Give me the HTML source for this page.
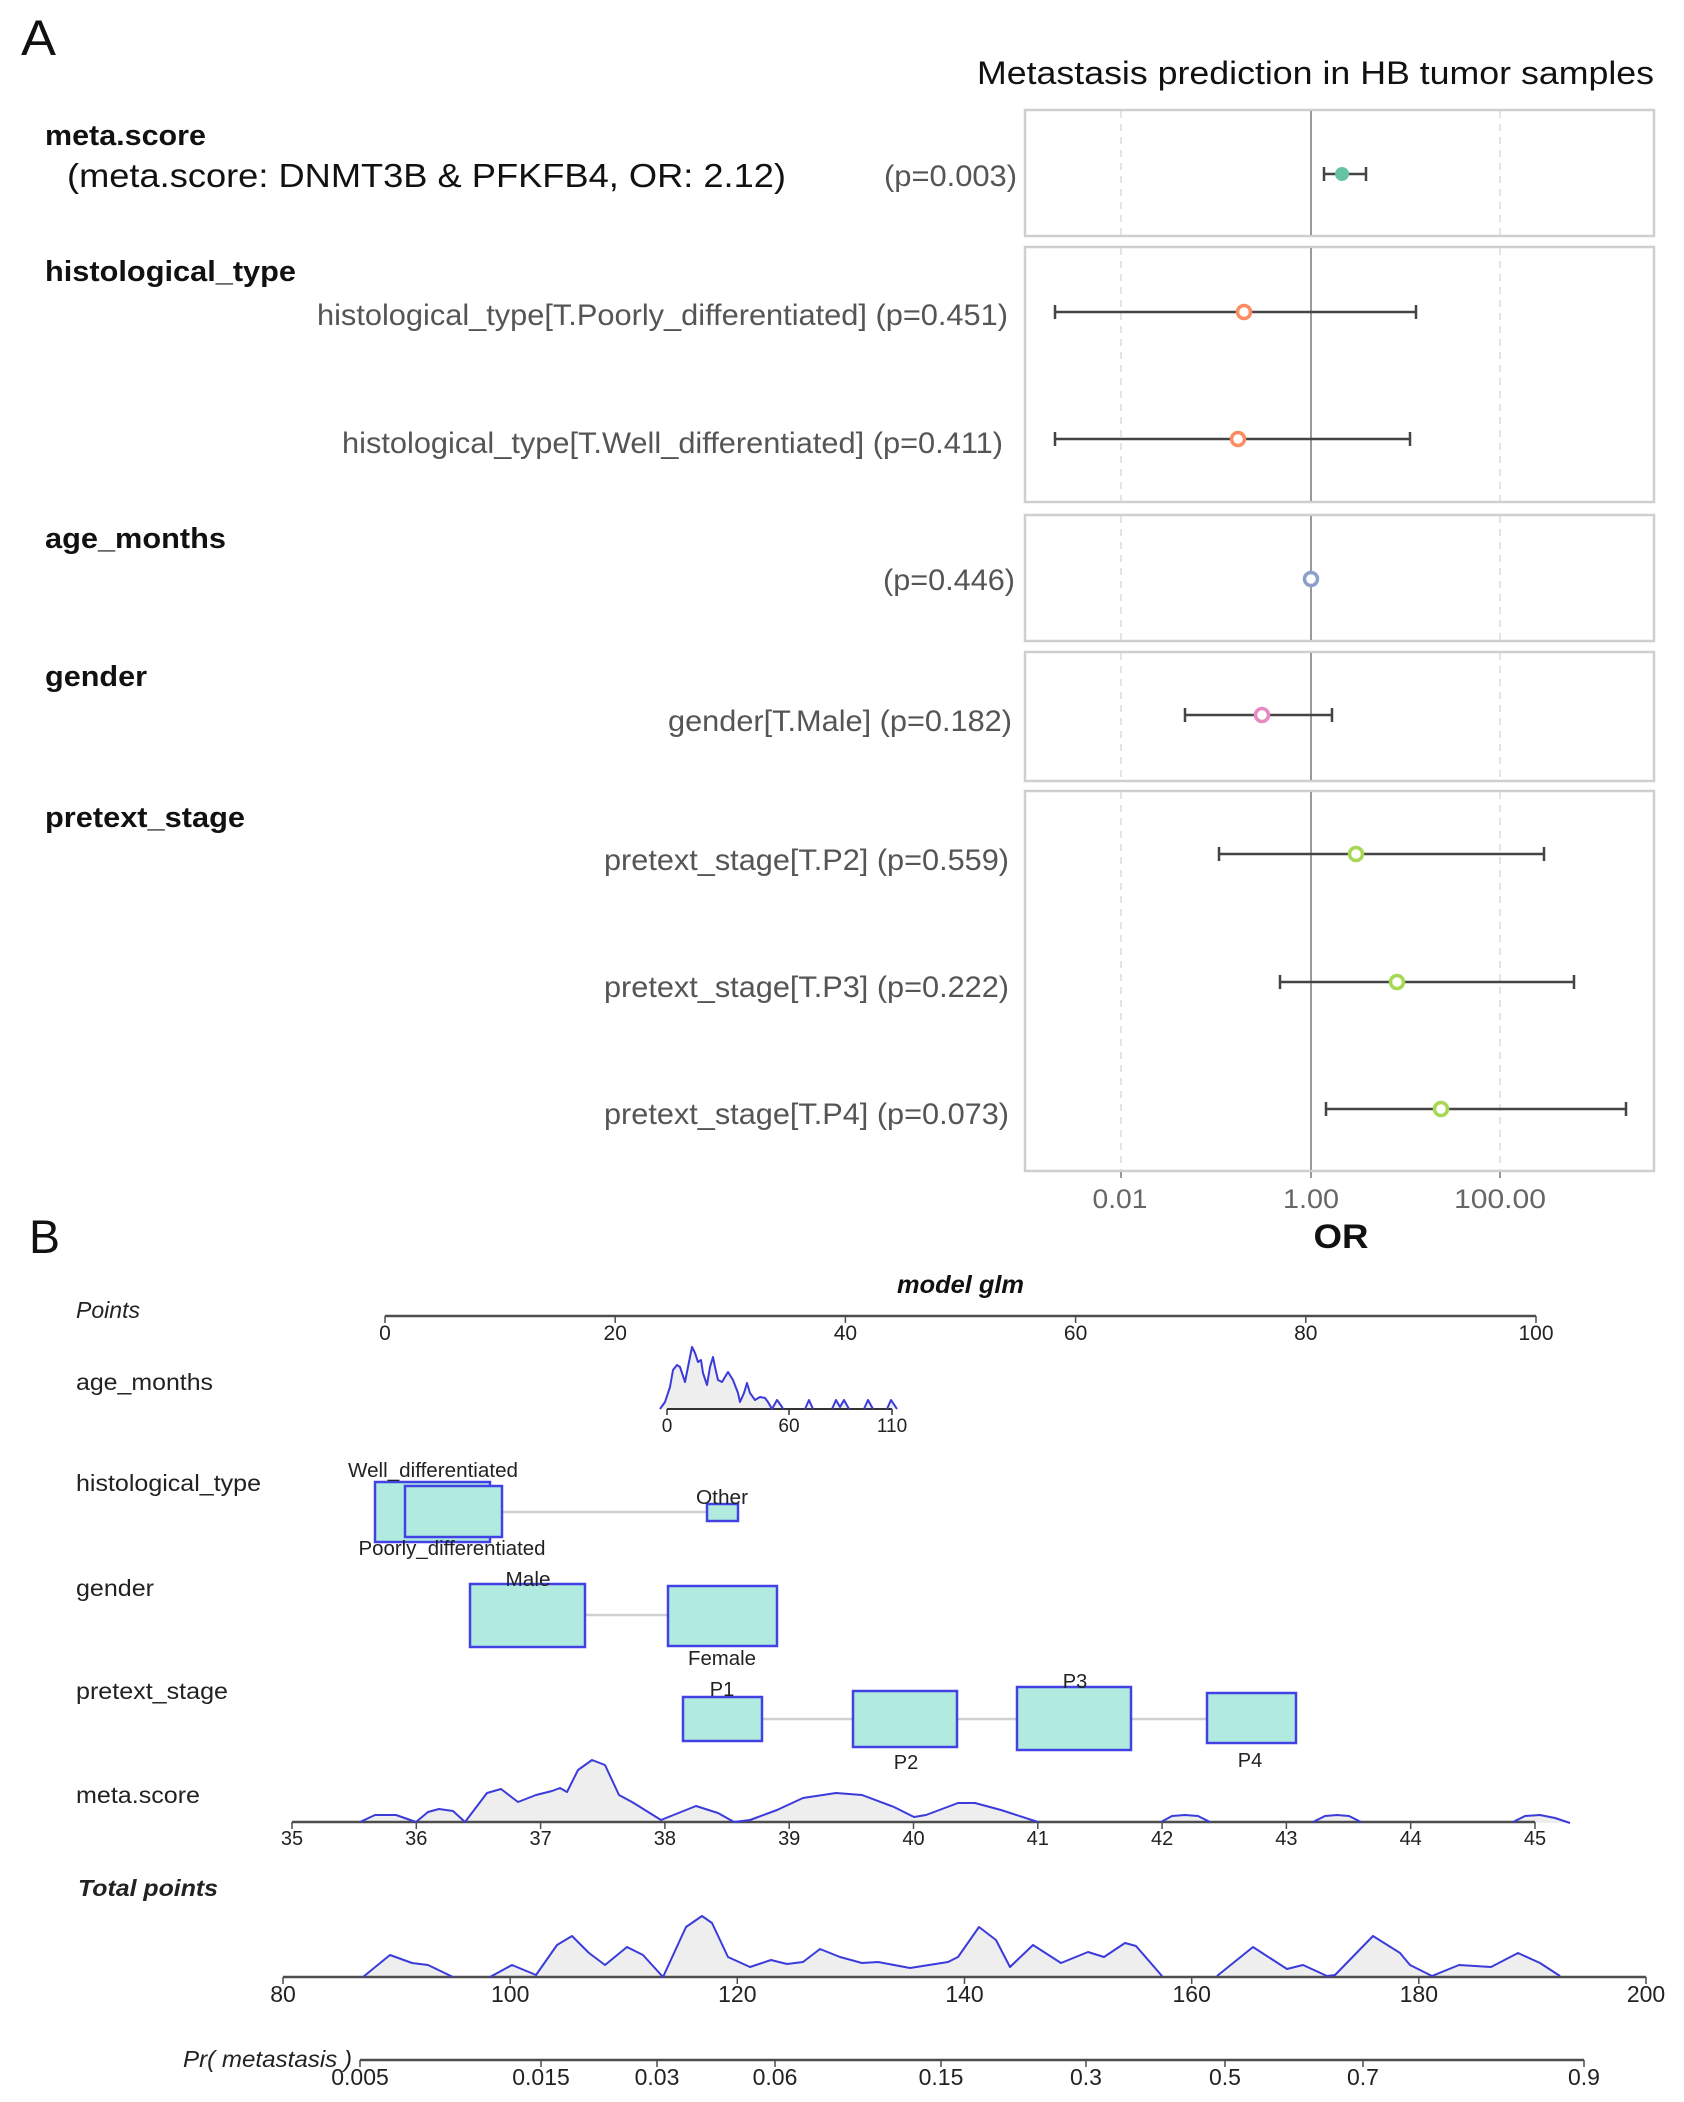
<!DOCTYPE html>
<html><head><meta charset="utf-8"><style>
html,body{margin:0;padding:0;background:#fff;}
svg{display:block;}
text{font-family:"Liberation Sans",Arial,sans-serif;}
</style></head><body>
<svg width="1684" height="2102" viewBox="0 0 1684 2102" xmlns="http://www.w3.org/2000/svg">
<rect width="1684" height="2102" fill="#fff"/>
<!-- Panel A -->
<text x="21" y="55" font-size="50" textLength="35" lengthAdjust="spacingAndGlyphs" fill="#111">A</text>
<text x="977" y="84" font-size="32" textLength="677" lengthAdjust="spacingAndGlyphs" fill="#111">Metastasis prediction in HB tumor samples</text>

<g fill="#fff" stroke="#cfcfcf" stroke-width="2.5">
<rect x="1025" y="110" width="629" height="126"/>
<rect x="1025" y="247" width="629" height="255"/>
<rect x="1025" y="515" width="629" height="126"/>
<rect x="1025" y="652" width="629" height="129"/>
<rect x="1025" y="791" width="629" height="380"/>
</g>
<g stroke="#dedede" stroke-width="1.6" stroke-dasharray="7,6">
<line x1="1121" y1="111" x2="1121" y2="235"/><line x1="1500" y1="111" x2="1500" y2="235"/>
<line x1="1121" y1="248" x2="1121" y2="501"/><line x1="1500" y1="248" x2="1500" y2="501"/>
<line x1="1121" y1="516" x2="1121" y2="640"/><line x1="1500" y1="516" x2="1500" y2="640"/>
<line x1="1121" y1="653" x2="1121" y2="780"/><line x1="1500" y1="653" x2="1500" y2="780"/>
<line x1="1121" y1="792" x2="1121" y2="1170"/><line x1="1500" y1="792" x2="1500" y2="1170"/>
</g>
<g stroke="#9a9a9a" stroke-width="2">
<line x1="1311" y1="111" x2="1311" y2="235"/>
<line x1="1311" y1="248" x2="1311" y2="501"/>
<line x1="1311" y1="516" x2="1311" y2="640"/>
<line x1="1311" y1="653" x2="1311" y2="780"/>
<line x1="1311" y1="792" x2="1311" y2="1170"/>
</g>
<g stroke="#999" stroke-width="2">
<line x1="1121" y1="1172" x2="1121" y2="1178"/>
<line x1="1311" y1="1172" x2="1311" y2="1178"/>
<line x1="1500" y1="1172" x2="1500" y2="1178"/>
</g>
<!-- CIs -->
<g stroke="#444" stroke-width="2.5" fill="none">
<path d="M1324 174H1366M1324 167V181M1366 167V181"/>
<path d="M1055 312H1416M1055 305V319M1416 305V319"/>
<path d="M1055 439H1410M1055 432V446M1410 432V446"/>
<path d="M1185 715H1332M1185 708V722M1332 708V722"/>
<path d="M1219 854H1544M1219 847V861M1544 847V861"/>
<path d="M1280 982H1574M1280 975V989M1574 975V989"/>
<path d="M1326 1109H1626M1326 1102V1116M1626 1102V1116"/>
</g>
<circle cx="1342" cy="174" r="7" fill="#66c2a5"/>
<g fill="#fff" stroke-width="3.5">
<circle cx="1244" cy="312" r="6.5" stroke="#fc8d62"/>
<circle cx="1238" cy="439" r="6.5" stroke="#fc8d62"/>
<circle cx="1311" cy="579" r="6.5" stroke="#8da0cb"/>
<circle cx="1262" cy="715" r="6.5" stroke="#e78ac3"/>
<circle cx="1356" cy="854" r="6.5" stroke="#a6d854"/>
<circle cx="1397" cy="982" r="6.5" stroke="#a6d854"/>
<circle cx="1441" cy="1109" r="6.5" stroke="#a6d854"/>
</g>
<!-- A labels -->
<g font-weight="bold" font-size="29" fill="#111">
<text x="45" y="145" textLength="161" lengthAdjust="spacingAndGlyphs">meta.score</text>
<text x="45" y="281" textLength="251" lengthAdjust="spacingAndGlyphs">histological_type</text>
<text x="45" y="548" textLength="181" lengthAdjust="spacingAndGlyphs">age_months</text>
<text x="45" y="686" textLength="102" lengthAdjust="spacingAndGlyphs">gender</text>
<text x="45" y="827" textLength="200" lengthAdjust="spacingAndGlyphs">pretext_stage</text>
</g>
<text x="67" y="187" font-size="33" fill="#111" textLength="719" lengthAdjust="spacingAndGlyphs">(meta.score: DNMT3B &amp; PFKFB4,  OR: 2.12)</text>
<g font-size="30" fill="#555" text-anchor="end">
<text x="1017" y="186" textLength="133" lengthAdjust="spacingAndGlyphs">(p=0.003)</text>
<text x="1008" y="325" textLength="691" lengthAdjust="spacingAndGlyphs">histological_type[T.Poorly_differentiated] (p=0.451)</text>
<text x="1003" y="453" textLength="661" lengthAdjust="spacingAndGlyphs">histological_type[T.Well_differentiated] (p=0.411)</text>
<text x="1015" y="590" textLength="132" lengthAdjust="spacingAndGlyphs">(p=0.446)</text>
<text x="1012" y="731" textLength="344" lengthAdjust="spacingAndGlyphs">gender[T.Male] (p=0.182)</text>
<text x="1009" y="870" textLength="405" lengthAdjust="spacingAndGlyphs">pretext_stage[T.P2] (p=0.559)</text>
<text x="1009" y="997" textLength="405" lengthAdjust="spacingAndGlyphs">pretext_stage[T.P3] (p=0.222)</text>
<text x="1009" y="1124" textLength="405" lengthAdjust="spacingAndGlyphs">pretext_stage[T.P4] (p=0.073)</text>
</g>
<g font-size="27" fill="#666" text-anchor="middle">
<text x="1120" y="1208" textLength="55" lengthAdjust="spacingAndGlyphs">0.01</text>
<text x="1311" y="1208" textLength="56" lengthAdjust="spacingAndGlyphs">1.00</text>
<text x="1500" y="1208" textLength="92" lengthAdjust="spacingAndGlyphs">100.00</text>
</g>
<text x="1341" y="1248" font-size="34" font-weight="bold" fill="#111" text-anchor="middle" textLength="55" lengthAdjust="spacingAndGlyphs">OR</text>

<!-- Panel B -->
<text x="29" y="1253" font-size="47" fill="#111" textLength="31" lengthAdjust="spacingAndGlyphs">B</text>
<text x="897" y="1293" font-size="25" font-weight="bold" font-style="italic" fill="#111" textLength="127" lengthAdjust="spacingAndGlyphs">model glm</text>
<g font-size="23" fill="#222">
<text x="76" y="1318" font-style="italic" textLength="64" lengthAdjust="spacingAndGlyphs">Points</text>
<text x="76" y="1390" textLength="137" lengthAdjust="spacingAndGlyphs">age_months</text>
<text x="76" y="1491" textLength="185" lengthAdjust="spacingAndGlyphs">histological_type</text>
<text x="76" y="1596" textLength="78" lengthAdjust="spacingAndGlyphs">gender</text>
<text x="76" y="1699" textLength="152" lengthAdjust="spacingAndGlyphs">pretext_stage</text>
<text x="76" y="1803" textLength="124" lengthAdjust="spacingAndGlyphs">meta.score</text>
<text x="78" y="1896" font-weight="bold" font-style="italic" textLength="140" lengthAdjust="spacingAndGlyphs">Total points</text>
<text x="183" y="2067" font-style="italic" textLength="169" lengthAdjust="spacingAndGlyphs">Pr( metastasis )</text>
</g>

<!-- Points axis -->
<g stroke="#4d4d4d" stroke-width="2.5">
<line x1="385" y1="1316" x2="1536" y2="1316"/>
<path d="M385 1316V1323M615.2 1316V1323M845.4 1316V1323M1075.6 1316V1323M1305.8 1316V1323M1536 1316V1323" stroke-width="1.5"/>
</g>
<g font-size="21" fill="#222" text-anchor="middle">
<text x="385" y="1340">0</text><text x="615.2" y="1340">20</text><text x="845.4" y="1340">40</text>
<text x="1075.6" y="1340">60</text><text x="1305.8" y="1340">80</text><text x="1536" y="1340">100</text>
</g>

<!-- age density -->
<path d="M660 1409 L665 1402 L670 1387 L673 1370 L677 1365 L680 1367 L685 1382 L688 1367 L692 1347 L695 1353 L698 1362 L701 1360 L703 1373 L707 1385 L710 1367 L713 1357 L715 1367 L718 1380 L722 1382 L725 1377 L728 1372 L733 1380 L738 1393 L740 1402 L744 1393 L747 1383 L750 1393 L755 1400 L760 1397 L765 1398 L768 1402 L772 1409 L777 1400 L782 1407 L783 1409 L805 1409 L809 1400 L813 1409 L832 1409 L836 1400 L840 1407 L844 1400 L849 1409 L864 1409 L868 1400 L873 1409 L887 1409 L891 1400 L897 1409 Z" fill="#eeeeee" stroke="none"/>
<line x1="667" y1="1409" x2="892" y2="1409" stroke="#333" stroke-width="2"/>
<path d="M660 1409 L665 1402 L670 1387 L673 1370 L677 1365 L680 1367 L685 1382 L688 1367 L692 1347 L695 1353 L698 1362 L701 1360 L703 1373 L707 1385 L710 1367 L713 1357 L715 1367 L718 1380 L722 1382 L725 1377 L728 1372 L733 1380 L738 1393 L740 1402 L744 1393 L747 1383 L750 1393 L755 1400 L760 1397 L765 1398 L768 1402 L772 1409 L777 1400 L782 1407 L783 1409 M805 1409 L809 1400 L813 1409 M832 1409 L836 1400 L840 1407 L844 1400 L849 1409 M864 1409 L868 1400 L873 1409 M887 1409 L891 1400 L897 1409" fill="none" stroke="#3b3bdc" stroke-width="2" stroke-linejoin="round"/>
<path d="M667 1409V1415M789 1409V1415M892 1409V1415" stroke="#333" stroke-width="1.5"/>
<g font-size="19" fill="#222" text-anchor="middle">
<text x="667" y="1432">0</text><text x="789" y="1432">60</text><text x="892" y="1432">110</text>
</g>

<!-- boxes -->
<g stroke="#d0d0d0" stroke-width="2.5">
<line x1="502" y1="1512" x2="707" y2="1512"/>
<line x1="585" y1="1615" x2="668" y2="1615"/>
<line x1="762" y1="1719" x2="1207" y2="1719"/>
</g>
<g fill="#b1ebdf" stroke="#4242e4" stroke-width="2.5">
<rect x="375" y="1482" width="115" height="60"/>
<rect x="405" y="1486" width="97" height="51"/>
<rect x="707" y="1504" width="31" height="17"/>
<rect x="470" y="1584" width="115" height="63"/>
<rect x="668" y="1586" width="109" height="60"/>
<rect x="683" y="1697" width="79" height="44"/>
<rect x="853" y="1691" width="104" height="56"/>
<rect x="1017" y="1687" width="114" height="63"/>
<rect x="1207" y="1693" width="89" height="50"/>
</g>
<g font-size="20" fill="#222" text-anchor="middle">
<text x="433" y="1477" textLength="170" lengthAdjust="spacingAndGlyphs">Well_differentiated</text>
<text x="452" y="1555" textLength="187" lengthAdjust="spacingAndGlyphs">Poorly_differentiated</text>
<text x="722" y="1504" textLength="52" lengthAdjust="spacingAndGlyphs">Other</text>
<text x="528" y="1586" textLength="45" lengthAdjust="spacingAndGlyphs">Male</text>
<text x="722" y="1665" textLength="68" lengthAdjust="spacingAndGlyphs">Female</text>
<text x="722" y="1696">P1</text>
<text x="906" y="1769">P2</text>
<text x="1075" y="1688">P3</text>
<text x="1250" y="1767">P4</text>
</g>

<!-- meta.score density + axis -->
<path d="M360 1822 L375 1815 L396 1815 L416 1822 L428 1812 L439 1809 L453 1811 L465 1822 L487 1793 L501 1789 L518 1802 L536 1795 L552 1791 L560 1788 L567 1792 L578 1770 L592 1760 L605 1765 L619 1795 L632 1802 L661 1820 L696 1806 L718 1813 L734 1822 L750 1820 L777 1810 L803 1798 L836 1793 L862 1795 L894 1807 L914 1817 L926 1815 L958 1803 L975 1803 L1001 1810 L1038 1822 L1161 1822 L1172 1816 L1185 1815 L1198 1816 L1210 1822 L1313 1822 L1325 1816 L1337 1815 L1349 1816 L1361 1822 L1513 1822 L1525 1816 L1540 1815 L1555 1818 L1570 1823 Z" fill="#eeeeee"/>
<line x1="292" y1="1822" x2="1535" y2="1822" stroke="#4d4d4d" stroke-width="2.5"/>
<path d="M360 1822 L375 1815 L396 1815 L416 1822 L428 1812 L439 1809 L453 1811 L465 1822 L487 1793 L501 1789 L518 1802 L536 1795 L552 1791 L560 1788 L567 1792 L578 1770 L592 1760 L605 1765 L619 1795 L632 1802 L661 1820 L696 1806 L718 1813 L734 1822 L750 1820 L777 1810 L803 1798 L836 1793 L862 1795 L894 1807 L914 1817 L926 1815 L958 1803 L975 1803 L1001 1810 L1038 1822 M1161 1822 L1172 1816 L1185 1815 L1198 1816 L1210 1822 M1313 1822 L1325 1816 L1337 1815 L1349 1816 L1361 1822 M1513 1822 L1525 1816 L1540 1815 L1555 1818 L1570 1823" fill="none" stroke="#3b3bdc" stroke-width="2" stroke-linejoin="round"/>
<path d="M292 1822V1829M416.3 1822V1829M540.6 1822V1829M664.9 1822V1829M789.2 1822V1829M913.5 1822V1829M1037.8 1822V1829M1162.1 1822V1829M1286.4 1822V1829M1410.7 1822V1829M1535 1822V1829" stroke="#4d4d4d" stroke-width="1.5"/>
<g font-size="20" fill="#222" text-anchor="middle">
<text x="292" y="1845">35</text><text x="416.3" y="1845">36</text><text x="540.6" y="1845">37</text>
<text x="664.9" y="1845">38</text><text x="789.2" y="1845">39</text><text x="913.5" y="1845">40</text>
<text x="1037.8" y="1845">41</text><text x="1162.1" y="1845">42</text><text x="1286.4" y="1845">43</text>
<text x="1410.7" y="1845">44</text><text x="1535" y="1845">45</text>
</g>

<!-- Total points density + axis -->
<path d="M363 1977 L390 1955 L412 1963 L428 1965 L453 1977 L490 1977 L512 1965 L536 1975 L557 1945 L572 1936 L589 1953 L605 1965 L627 1947 L643 1955 L663 1977 L686 1927 L702 1916 L712 1923 L728 1957 L750 1967 L771 1960 L787 1964 L803 1962 L820 1949 L840 1957 L862 1963 L878 1962 L910 1968 L948 1962 L958 1957 L979 1927 L996 1940 L1010 1967 L1033 1945 L1061 1963 L1088 1952 L1104 1957 L1125 1943 L1136 1946 L1162 1976 L1217 1976 L1253 1947 L1287 1969 L1303 1965 L1327 1976 L1335 1975 L1373 1936 L1400 1953 L1410 1965 L1432 1976 L1459 1965 L1491 1967 L1518 1953 L1540 1963 L1560 1976 Z" fill="#eeeeee"/>
<line x1="283" y1="1977" x2="1646" y2="1977" stroke="#4d4d4d" stroke-width="2.5"/>
<path d="M363 1977 L390 1955 L412 1963 L428 1965 L453 1977 M490 1977 L512 1965 L536 1975 L557 1945 L572 1936 L589 1953 L605 1965 L627 1947 L643 1955 L663 1977 L686 1927 L702 1916 L712 1923 L728 1957 L750 1967 L771 1960 L787 1964 L803 1962 L820 1949 L840 1957 L862 1963 L878 1962 L910 1968 L948 1962 L958 1957 L979 1927 L996 1940 L1010 1967 L1033 1945 L1061 1963 L1088 1952 L1104 1957 L1125 1943 L1136 1946 L1162 1976 M1217 1976 L1253 1947 L1287 1969 L1303 1965 L1327 1976 L1335 1975 L1373 1936 L1400 1953 L1410 1965 L1432 1976 L1459 1965 L1491 1967 L1518 1953 L1540 1963 L1560 1976" fill="none" stroke="#3b3bdc" stroke-width="2" stroke-linejoin="round"/>
<path d="M283 1977V1984M510.2 1977V1984M737.3 1977V1984M964.5 1977V1984M1191.7 1977V1984M1418.8 1977V1984M1646 1977V1984" stroke="#4d4d4d" stroke-width="1.5"/>
<g font-size="23" fill="#222" text-anchor="middle">
<text x="283" y="2002">80</text><text x="510.2" y="2002">100</text><text x="737.3" y="2002">120</text>
<text x="964.5" y="2002">140</text><text x="1191.7" y="2002">160</text><text x="1418.8" y="2002">180</text>
<text x="1646" y="2002">200</text>
</g>

<!-- Pr axis -->
<line x1="360" y1="2060" x2="1584" y2="2060" stroke="#4d4d4d" stroke-width="2.5"/>
<path d="M360 2060V2067M541 2060V2067M657 2060V2067M775 2060V2067M941 2060V2067M1086 2060V2067M1225 2060V2067M1363 2060V2067M1584 2060V2067" stroke="#4d4d4d" stroke-width="1.5"/>
<g font-size="23" fill="#222" text-anchor="middle">
<text x="360" y="2085">0.005</text><text x="541" y="2085">0.015</text><text x="657" y="2085">0.03</text>
<text x="775" y="2085">0.06</text><text x="941" y="2085">0.15</text><text x="1086" y="2085">0.3</text>
<text x="1225" y="2085">0.5</text><text x="1363" y="2085">0.7</text><text x="1584" y="2085">0.9</text>
</g>
</svg>
</body></html>
